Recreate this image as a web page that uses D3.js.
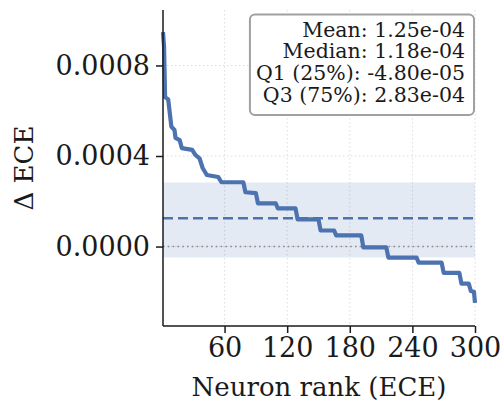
<!DOCTYPE html>
<html>
<head>
<meta charset="utf-8">
<script src="https://cdn.jsdelivr.net/npm/d3@7"></script>
<style>
  body { margin: 0; background: #fff; }
  text { font-family: "DejaVu Serif", serif; fill: #1a1a1a; }
</style>
</head>
<body>
<div id="chart"></div>
<script>
// sorted delta ECE per neuron, corner points (units 1e-4)
var ranks = [1, 2, 3, 6, 9, 12, 13, 17, 19, 29, 32, 36, 39, 43, 54, 57, 78, 80, 90, 92,
             109, 111, 128, 130, 150, 152, 165, 167, 191, 193, 215, 217, 244, 246, 268,
             270, 285, 287, 294, 296, 299, 300];
var values = [9.47, 8.84, 6.6, 6.5, 5.3, 5.15, 4.8, 4.7, 4.35, 4.27, 4.05, 3.9, 3.47, 3.16,
              3.07, 2.84, 2.84, 2.4, 2.36, 1.91, 1.91, 1.69, 1.69, 1.2, 1.2, 0.71, 0.71,
              0.49, 0.49, -0.04, -0.04, -0.49, -0.49, -0.71, -0.71, -1.16, -1.16, -1.64,
              -1.64, -1.96, -2.0, -2.49];
var statNames = ["Mean", "Median", "Q1 (25%)", "Q3 (75%)"];
var statValues = [1.25e-4, 1.18e-4, -4.80e-5, 2.83e-4];
var xTicks = [60, 120, 180, 240, 300];
var yTicks = [0, 0.0004, 0.0008];

var width = 504, height = 407;
var margin = {top: 10, right: 29, bottom: 81, left: 163};
var w = width - margin.left - margin.right,
    h = height - margin.top - margin.bottom;

var data = ranks.map(function(r, i) { return {rank: r, v: values[i] * 1e-4}; });

var x = d3.scaleLinear().domain([1, 300]).range([0, w]);
var y = d3.scaleLinear().domain([-3.51e-4, 10.45e-4]).range([h, 0]);

var svg = d3.select("#chart").append("svg")
    .attr("width", width)
    .attr("height", height)
  .append("g")
    .attr("transform", "translate(" + margin.left + "," + margin.top + ")");

var blue = "#4c72b0";

// grid
svg.append("g").selectAll("line").data(xTicks).enter().append("line")
    .attr("x1", function(d) { return x(d); }).attr("x2", function(d) { return x(d); })
    .attr("y1", 0).attr("y2", h)
    .attr("stroke", "#dcdcdc").attr("stroke-width", 1).attr("stroke-dasharray", "1.5,2.5");
svg.append("g").selectAll("line").data(yTicks).enter().append("line")
    .attr("x1", 0).attr("x2", w)
    .attr("y1", function(d) { return y(d); }).attr("y2", function(d) { return y(d); })
    .attr("stroke", "#dcdcdc").attr("stroke-width", 1).attr("stroke-dasharray", "1.5,2.5");

// IQR band
svg.append("rect")
    .attr("x", 0).attr("width", w)
    .attr("y", y(statValues[3]))
    .attr("height", y(statValues[2]) - y(statValues[3]))
    .attr("fill", blue).attr("fill-opacity", 0.15);

// zero line
svg.append("line")
    .attr("x1", 0).attr("x2", w).attr("y1", y(0)).attr("y2", y(0))
    .attr("stroke", "#8c8c8c").attr("stroke-width", 1.6).attr("stroke-dasharray", "1.6,3.2");

// mean line
svg.append("line")
    .attr("x1", 0).attr("x2", w).attr("y1", y(statValues[0])).attr("y2", y(statValues[0]))
    .attr("stroke", blue).attr("stroke-width", 2.5).attr("stroke-dasharray", "10,5");

// curve
var line = d3.line()
    .x(function(d) { return x(d.rank); })
    .y(function(d) { return y(d.v); });
svg.append("path").datum(data)
    .attr("d", line)
    .attr("fill", "none")
    .attr("stroke", blue)
    .attr("stroke-width", 4.2)
    .attr("stroke-linejoin", "round");

// axes
var xAxis = svg.append("g")
    .attr("transform", "translate(0," + h + ")")
    .call(d3.axisBottom(x).tickValues(xTicks).tickSize(7).tickPadding(5));
var yAxis = svg.append("g")
    .call(d3.axisLeft(y).tickValues(yTicks).tickSize(7).tickPadding(6)
      .tickFormat(d3.format(".4f")));
[xAxis, yAxis].forEach(function(a) {
  a.select(".domain").attr("stroke", "#1a1a1a").attr("stroke-width", 1.5);
  a.selectAll(".tick line").attr("stroke", "#1a1a1a").attr("stroke-width", 1.5);
  a.selectAll("text").style("font-size", "27px").attr("fill", "#1a1a1a");
});
xAxis.select(".domain").attr("d", "M0,0H" + w);
yAxis.select(".domain").attr("d", "M0," + h + "V0");

svg.append("text")
    .attr("x", w / 2).attr("y", h + 70)
    .attr("text-anchor", "middle")
    .style("font-size", "26px")
    .text("Neuron rank (ECE)");
svg.append("text")
    .attr("transform", "translate(" + (-130) + "," + (h / 2) + ") rotate(-90)")
    .attr("text-anchor", "middle")
    .style("font-size", "26px")
    .text("Δ ECE");

// stats box
var box = svg.append("g");
var fmt = function(v) {
  var s = v.toExponential(2);
  return s.replace(/e([+-])(\d)$/, "e$10$2");
};
box.selectAll("text").data(statNames).enter().append("text")
    .attr("x", 302)
    .attr("y", function(d, i) { return 26.7 + i * 21.7; })
    .attr("text-anchor", "end")
    .style("font-size", "20.5px")
    .text(function(d, i) { return d + ": " + fmt(statValues[i]); });
var bb = box.node().getBBox();
box.insert("rect", "text")
    .attr("x", bb.x - 6).attr("y", 4.5)
    .attr("width", bb.width + 15).attr("height", 100.5)
    .attr("rx", 5)
    .attr("fill", "#fff").attr("fill-opacity", 0.85)
    .attr("stroke", "#a0a0a0").attr("stroke-width", 2);
</script>
</body>
</html>
